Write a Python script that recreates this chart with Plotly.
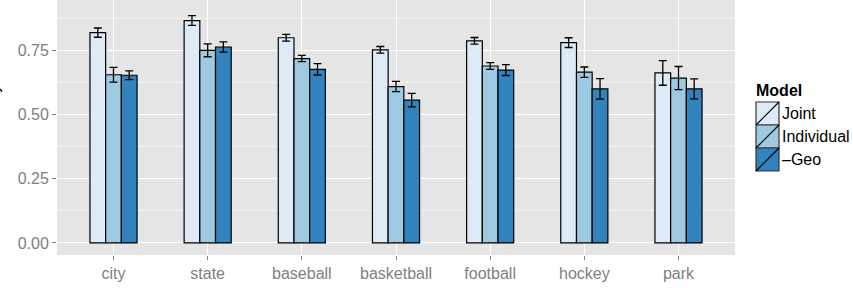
import plotly.graph_objects as go

categories = ["city", "state", "baseball", "basketball", "football", "hockey", "park"]
models = ["Joint", "Individual", "\u2013Geo"]

joint = [0.819, 0.866, 0.799, 0.752, 0.787, 0.780, 0.662]
joint_err = [0.018, 0.019, 0.013, 0.013, 0.013, 0.019, 0.048]
individual = [0.655, 0.750, 0.718, 0.609, 0.689, 0.665, 0.642]
individual_err = [0.029, 0.025, 0.012, 0.020, 0.013, 0.020, 0.045]
geo = [0.653, 0.763, 0.676, 0.556, 0.673, 0.600, 0.600]
geo_err = [0.017, 0.020, 0.022, 0.026, 0.021, 0.040, 0.039]

y_ticks = [0.0, 0.25, 0.5, 0.75]
y_ticklabels = ["0.00", "0.25", "0.50", "0.75"]

colors = ["#DEEBF7", "#9ECAE1", "#3182BD"]
series = [(joint, joint_err), (individual, individual_err), (geo, geo_err)]

W, H = 853, 288
ML, MR, MT, MB = 57, 118, 0, 33
PW, PH = W - ML - MR, H - MT - MB
FONT = "Liberation Sans, Arial, Helvetica, sans-serif"

fig = go.Figure()
for name, (vals, errs), col in zip(models, series, colors):
    fig.add_trace(go.Bar(
        x=categories, y=vals, name=name,
        marker=dict(color=col, line=dict(color="black", width=1.2)),
        error_y=dict(type="data", array=errs, color="black", thickness=1.3, width=4),
        showlegend=False,
    ))

def px2paper_x(px):
    return (px - ML) / PW

def px2paper_y(py):
    return (H - MB - py) / PH

shapes = []
annotations = []
key_left, key_size, key_top0 = 756, 23, 102
for i, (name, col) in enumerate(zip(models, colors)):
    top = key_top0 + i * key_size
    x0, x1 = px2paper_x(key_left), px2paper_x(key_left + key_size)
    y0, y1 = px2paper_y(top + key_size), px2paper_y(top)
    shapes.append(dict(type="rect", xref="paper", yref="paper", x0=x0, x1=x1, y0=y0, y1=y1,
                       fillcolor=col, line=dict(color="#333333", width=1.2), layer="above"))
    shapes.append(dict(type="line", xref="paper", yref="paper", x0=x0, x1=x1, y0=y0, y1=y1,
                       line=dict(color="black", width=1.2), layer="above"))
    annotations.append(dict(text=name, xref="paper", yref="paper",
                            x=px2paper_x(key_left + key_size + 1), y=px2paper_y(top + key_size / 2),
                            xanchor="left", yanchor="middle", showarrow=False,
                            font=dict(family=FONT, size=16, color="black")))
annotations.append(dict(text="<b>Model</b>", xref="paper", yref="paper",
                        x=px2paper_x(key_left - 2), y=px2paper_y(91),
                        xanchor="left", yanchor="middle", showarrow=False,
                        font=dict(family=FONT, size=16, color="black")))
annotations.append(dict(text="Accuracy", xref="paper", yref="paper", textangle=-90,
                        x=px2paper_x(3), y=px2paper_y(118), xanchor="right", yanchor="middle",
                        showarrow=False, font=dict(family=FONT, size=16, color="black")))

fig.update_layout(
    width=W, height=H,
    margin=dict(l=ML, r=MR, t=MT, b=MB, pad=0),
    paper_bgcolor="white", plot_bgcolor="#E5E5E5",
    barmode="group", bargap=0.5, bargroupgap=0,
    font=dict(family=FONT, size=16, color="#7F7F7F"),
    shapes=shapes, annotations=annotations,
)
fig.update_xaxes(
    range=[-0.6, 6.6], showgrid=True, gridcolor="white", gridwidth=1.2,
    ticks="outside", ticklen=4, tickcolor="#7F7F7F", tickwidth=1.1,
    tickfont=dict(family=FONT, size=16, color="#7F7F7F"),
    showline=False, zeroline=False,
)
fig.update_yaxes(
    range=[-0.047, 0.946], tickvals=y_ticks, ticktext=y_ticklabels,
    showgrid=True, gridcolor="white", gridwidth=1.2,
    minor=dict(tickvals=[0.125, 0.375, 0.625, 0.875], showgrid=True, gridcolor="#F2F2F2", gridwidth=0.8),
    ticks="outside", ticklen=4, tickcolor="#7F7F7F", tickwidth=1.1,
    tickfont=dict(family=FONT, size=16, color="#7F7F7F"),
    showline=False, zeroline=False,
)

fig.write_html("out.html")
